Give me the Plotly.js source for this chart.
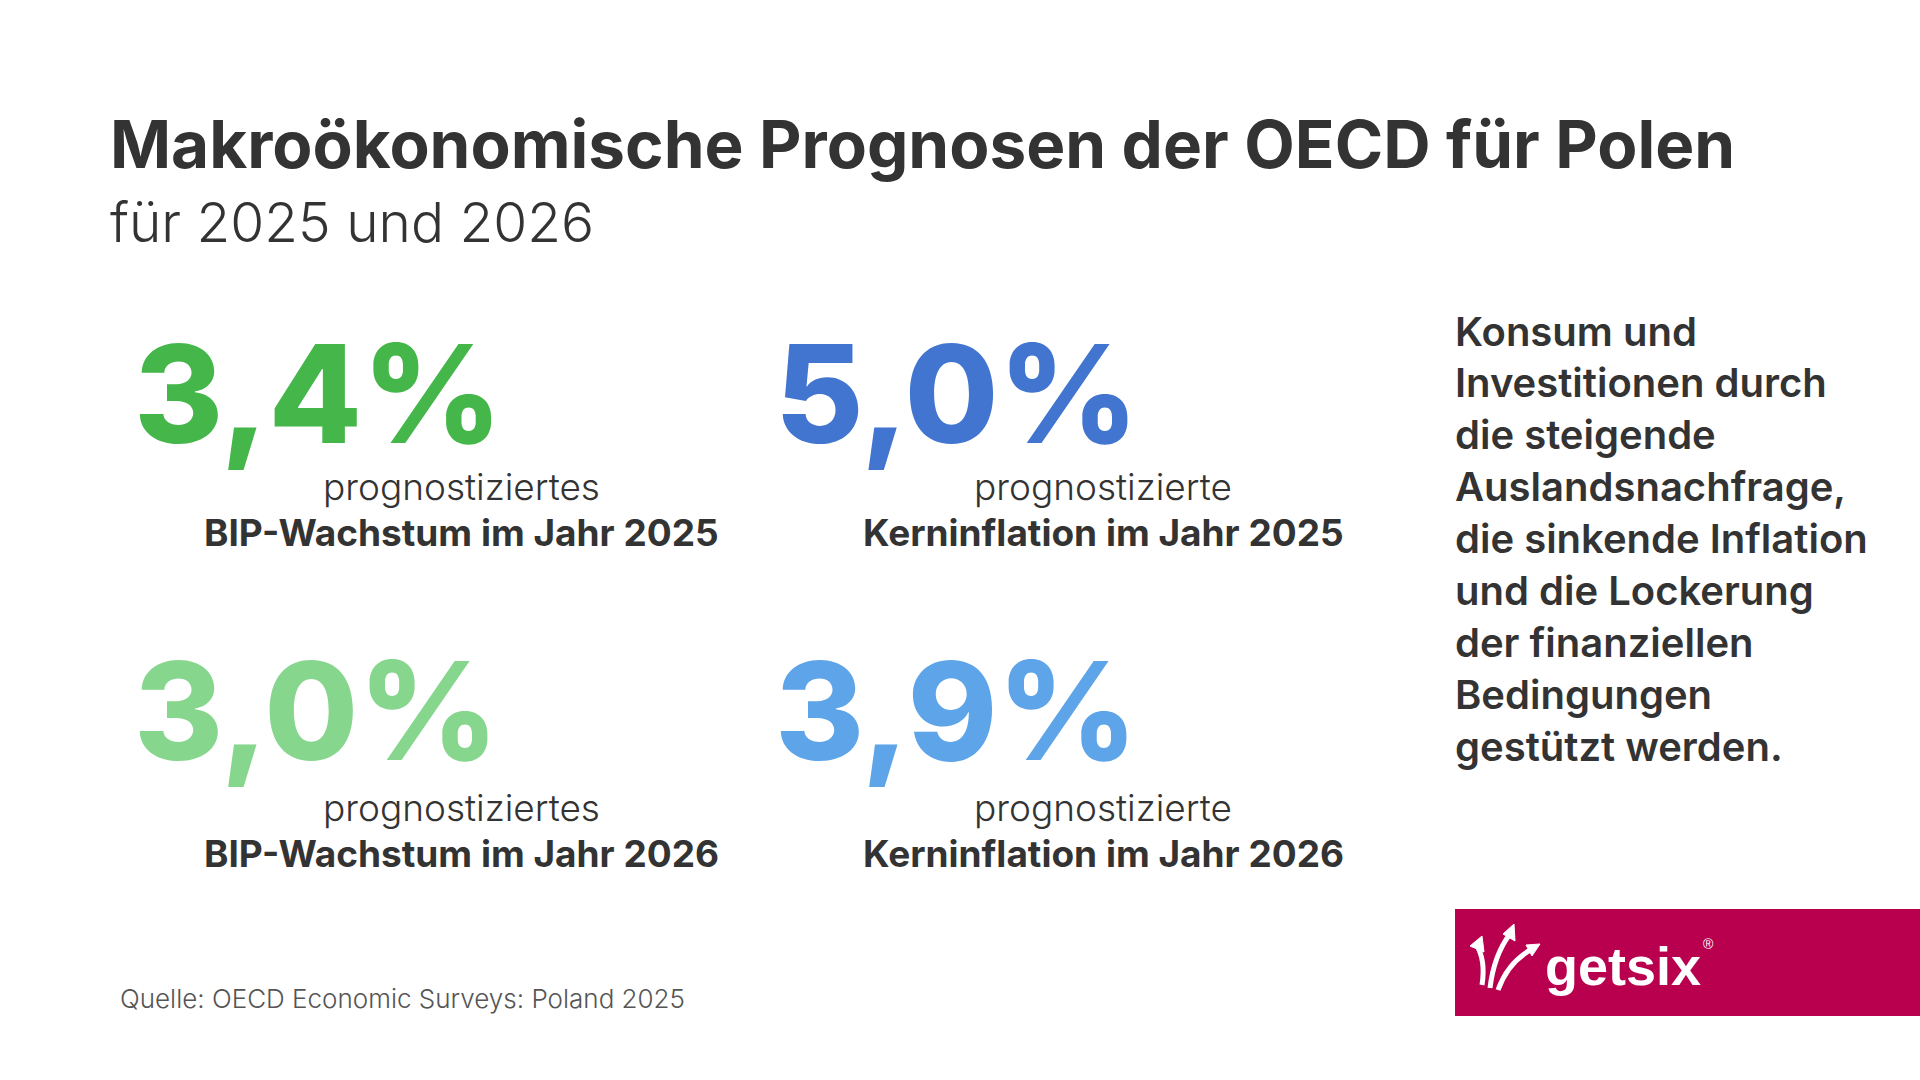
<!DOCTYPE html>
<html>
<head>
<meta charset="utf-8">
<script src="https://cdn.plot.ly/plotly-3.0.1.min.js"></script>
<style>html,body{margin:0;padding:0;background:#fff;}#chart{width:1920px;height:1080px;}</style>
</head>
<body>
<div id="chart"></div>
<script>
// ---- data ----
const titleText = "Makroökonomische Prognosen der OECD für Polen";
const subtitleText = "für 2025 und 2026";
const values = [3.4, 5.0, 3.0, 3.9];
const labelTop = ["prognostiziertes", "prognostizierte", "prognostiziertes", "prognostizierte"];
const labelBottom = ["BIP-Wachstum im Jahr 2025", "Kerninflation im Jahr 2025", "BIP-Wachstum im Jahr 2026", "Kerninflation im Jahr 2026"];
const noteLines = ["Konsum und", "Investitionen durch", "die steigende", "Auslandsnachfrage,", "die sinkende Inflation", "und die Lockerung", "der finanziellen", "Bedingungen", "gestützt werden."];
const sourceText = "Quelle: OECD Economic Surveys: Poland 2025";
const brandText = "getsix";

// ---- layout / style ----
const W = 1920, H = 1080;
const FONT = "Inter, 'Open Sans', sans-serif";
const DARK = "#333333";
const numColors = ["#45B74A", "#4275D0", "#86D68E", "#5EA4E8"];
const colNumLeft = [134, 775];
const colLabelCenter = [461, 1103];
const rowNumCenter = [393, 710];
const rowTopLabel = [486, 807];
const rowBottomLabel = [532, 853];

const px = x => x / W;
const py = y => 1 - y / H;

const traces = values.map((v, i) => {
  const c = i % 2, r = Math.floor(i / 2);
  return {
    type: "indicator",
    mode: "number",
    value: v,
    align: "left",
    number: {valueformat: ".1f", suffix: "%", font: {family: FONT, size: 136, color: numColors[i], weight: 800}},
    domain: {x: [px(colNumLeft[c]), px(colNumLeft[c] + 520)], y: [py(rowNumCenter[r] + 110), py(rowNumCenter[r] - 110)]}
  };
});

const annotations = [];
annotations.push({text: "<b>" + titleText + "</b>", x: 108, y: 144, xanchor: "left", yanchor: "middle", showarrow: false,
  font: {family: FONT, size: 65.6, color: DARK, weight: 700}});
annotations.push({text: subtitleText, x: 108, y: 222, xanchor: "left", yanchor: "middle", showarrow: false,
  font: {family: FONT, size: 55, color: DARK, weight: 300}});
values.forEach((v, i) => {
  const c = i % 2, r = Math.floor(i / 2);
  annotations.push({text: labelTop[i], x: colLabelCenter[c], y: rowTopLabel[r], xanchor: "center", yanchor: "middle", showarrow: false,
    font: {family: FONT, size: 37, color: DARK, weight: 300}});
  annotations.push({text: "<b>" + labelBottom[i] + "</b>", x: colLabelCenter[c], y: rowBottomLabel[r], xanchor: "center", yanchor: "middle", showarrow: false,
    font: {family: FONT, size: 37, color: DARK, weight: 700}});
});
noteLines.forEach((t, k) => {
  annotations.push({text: t, x: 1453, y: 331 + k * 51.9, xanchor: "left", yanchor: "middle", showarrow: false,
    font: {family: FONT, size: 40, color: DARK, weight: 600}});
});
annotations.push({text: sourceText, x: 118, y: 998, xanchor: "left", yanchor: "middle", showarrow: false,
  font: {family: FONT, size: 26, color: "#555555", weight: 300}});
annotations.push({text: "<b>" + brandText + "</b>", x: 1543, y: 966, xanchor: "left", yanchor: "middle", showarrow: false,
  font: {family: "'Liberation Sans', Arial, sans-serif", size: 54, color: "#FFFFFF"}});
annotations.push({text: "®", x: 1701, y: 944, xanchor: "left", yanchor: "middle", showarrow: false,
  font: {family: "'Liberation Sans', Arial, sans-serif", size: 14, color: "#FFFFFF"}});

annotations.forEach(a => { a.xref = "x"; a.yref = "y"; });

const shapes = [
  {type: "rect", xref: "x", yref: "y", x0: 1455, x1: 1920, y0: 909, y1: 1016, fillcolor: "#B8004F", line: {width: 0}, layer: "below"},
  // logo arrows
  {type: "path", xref: "x", yref: "y", path: "M 1482 985 Q 1486 960 1476 944", line: {color: "#fff", width: 5}},
  {type: "path", xref: "x", yref: "y", path: "M 1470 946 L 1482 936 L 1484 952 Z", fillcolor: "#fff", line: {color: "#fff", width: 1}},
  {type: "path", xref: "x", yref: "y", path: "M 1490 988 Q 1494 955 1510 934", line: {color: "#fff", width: 5}},
  {type: "path", xref: "x", yref: "y", path: "M 1503 934 L 1514 924 L 1515 941 Z", fillcolor: "#fff", line: {color: "#fff", width: 1}},
  {type: "path", xref: "x", yref: "y", path: "M 1498 990 Q 1508 962 1532 949", line: {color: "#fff", width: 5}},
  {type: "path", xref: "x", yref: "y", path: "M 1526 945 L 1540 944 L 1532 956 Z", fillcolor: "#fff", line: {color: "#fff", width: 1}}
];

const layout = {
  width: W, height: H,
  margin: {l: 0, r: 0, t: 0, b: 0},
  paper_bgcolor: "#FFFFFF", plot_bgcolor: "rgba(0,0,0,0)",
  separators: ",.",
  showlegend: false,
  xaxis: {range: [0, W], visible: false, fixedrange: true},
  yaxis: {range: [H, 0], visible: false, fixedrange: true},
  annotations: annotations,
  shapes: shapes
};

Plotly.newPlot("chart", traces, layout, {displayModeBar: false, staticPlot: true});
</script>
</body>
</html>
